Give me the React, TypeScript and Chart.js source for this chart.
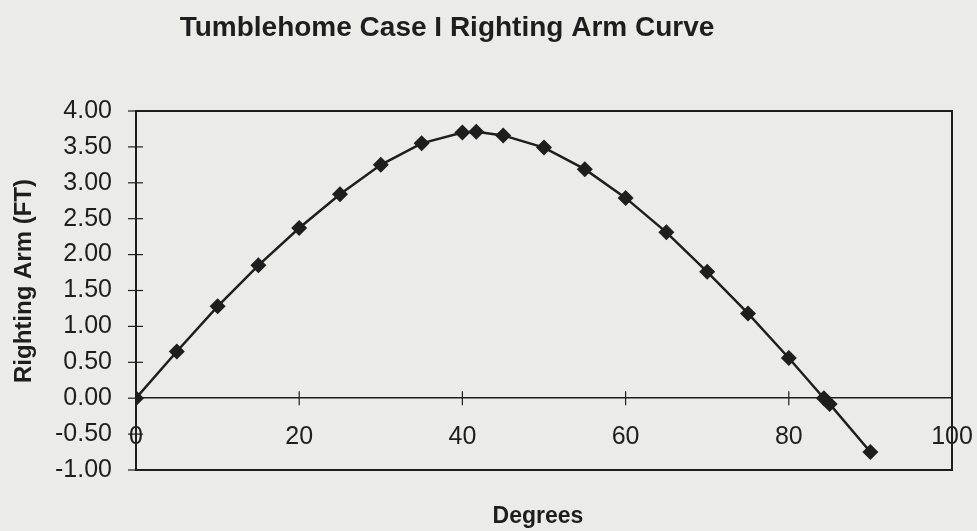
import React, { useEffect, useRef } from "react";
import { Chart, registerables } from "chart.js";

Chart.register(...registerables);

const degrees = [0, 5, 10, 15, 20, 25, 30, 35, 40, 41.7, 45, 50, 55, 60, 65, 70, 75, 80, 84.3, 85, 90];
const rightingArm = [0, 0.65, 1.28, 1.85, 2.37, 2.84, 3.25, 3.55, 3.7, 3.71, 3.66, 3.49, 3.19, 2.79, 2.31, 1.76, 1.18, 0.56, 0.0, -0.08, -0.75];

const titleText = "Tumblehome Case I Righting Arm Curve";
const xTitle = "Degrees";
const yTitle = "Righting Arm (FT)";

const INK = "#1e1e1e";
const BG = "#ebebe7";
const FONT = "'Liberation Sans', Arial, sans-serif";

export default function App() {
  const ref = useRef<HTMLCanvasElement | null>(null);

  useEffect(() => {
    document.body.style.margin = "0";
    document.body.style.background = BG;
    const canvas = ref.current;
    if (!canvas) return;

    const decor = {
      id: "decor",
      beforeDraw(chart: any) {
        const ctx = chart.ctx;
        ctx.save();
        ctx.fillStyle = BG;
        ctx.fillRect(0, 0, chart.width, chart.height);
        ctx.restore();
      },
      beforeDatasetsDraw(chart: any) {
        const ctx = chart.ctx;
        const a = chart.chartArea;
        const xs = chart.scales.x;
        const ys = chart.scales.y;
        ctx.save();
        ctx.strokeStyle = INK;
        ctx.lineWidth = 2;
        ctx.strokeRect(a.left, a.top, a.right - a.left, a.bottom - a.top);
        ctx.lineWidth = 1.2;
        ys.ticks.forEach((t: any) => {
          const py = ys.getPixelForValue(t.value);
          ctx.beginPath();
          ctx.moveTo(a.left - 8, py);
          ctx.lineTo(a.left + (t.value === ys.max || t.value === ys.min ? 0 : 7), py);
          ctx.stroke();
        });
        const y0 = ys.getPixelForValue(0);
        xs.ticks.forEach((t: any) => {
          if (t.value === xs.min || t.value === xs.max) return;
          const px = xs.getPixelForValue(t.value);
          ctx.beginPath();
          ctx.moveTo(px, y0 - 7);
          ctx.lineTo(px, y0 + 7);
          ctx.stroke();
        });
        ctx.restore();
      },
      afterDraw(chart: any) {
        const ctx = chart.ctx;
        ctx.save();
        ctx.fillStyle = INK;
        ctx.textAlign = "center";
        ctx.textBaseline = "alphabetic";
        ctx.font = `bold 28px ${FONT}`;
        ctx.fillText(titleText, 447, 36);
        ctx.font = `bold 23px ${FONT}`;
        ctx.fillText(xTitle, 538, 523);
        ctx.translate(31, 281);
        ctx.rotate(-Math.PI / 2);
        ctx.font = `bold 24px ${FONT}`;
        ctx.fillText(yTitle, 0, 0);
        ctx.restore();
      },
    };

    const chart = new Chart(canvas, {
      type: "scatter",
      data: {
        datasets: [
          {
            data: degrees.map((d, i) => ({ x: d, y: rightingArm[i] })),
            showLine: true,
            borderColor: INK,
            backgroundColor: INK,
            borderWidth: 2.5,
            pointStyle: "rectRot",
            pointRadius: 8,
            pointBorderWidth: 0,
            tension: 0,
          },
        ],
      },
      options: {
        responsive: false,
        devicePixelRatio: 1,
        animation: false,
        layout: { padding: { left: 0, right: 25, top: 111, bottom: 61 } },
        plugins: { legend: { display: false }, title: { display: false }, tooltip: { enabled: false } },
        scales: {
          x: {
            type: "linear",
            position: { y: 0 } as any,
            min: 0,
            max: 100,
            afterFit: (s: any) => {
              s.height = 0;
              s.paddingLeft = 0;
              s.paddingRight = 0;
            },
            grid: { display: true, drawOnChartArea: false, drawTicks: false },
            border: { display: true, color: INK, width: 1.5 },
            ticks: {
              stepSize: 20,
              padding: 24,
              color: INK,
              maxRotation: 0,
              font: { family: FONT, size: 25 },
            },
          },
          y: {
            type: "linear",
            position: "left",
            min: -1,
            max: 4,
            afterFit: (s: any) => {
              s.width = 136;
              s.paddingTop = 0;
              s.paddingBottom = 0;
            },
            grid: { display: true, drawOnChartArea: false, drawTicks: false },
            border: { display: false },
            ticks: {
              stepSize: 0.5,
              padding: 24,
              color: INK,
              font: { family: FONT, size: 25 },
              callback: (v: any) => Number(v).toFixed(2),
            },
          },
        },
      },
      plugins: [decor],
    } as any);

    return () => chart.destroy();
  }, []);

  return <canvas ref={ref} width={977} height={531} style={{ display: "block" }} />;
}
